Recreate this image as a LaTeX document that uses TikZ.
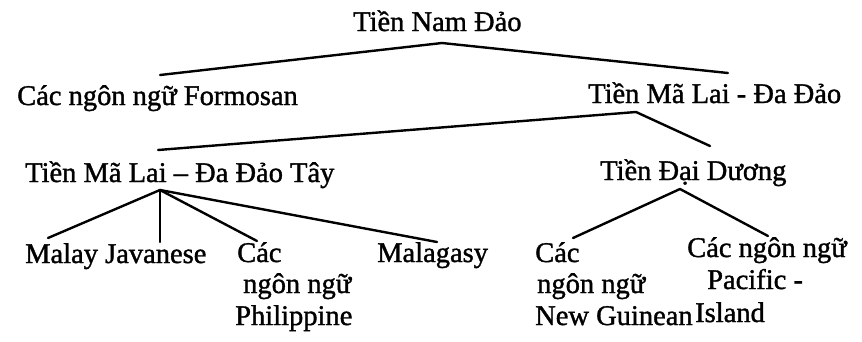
\documentclass[tikz,border=0pt]{standalone}
\usepackage{fontspec}
\setmainfont{Liberation Serif}
\newfontfamily\scanfont{Liberation Serif}[FakeBold=1.2]
\begin{document}
\begin{tikzpicture}[x=1pt,y=-1pt,
  lbl/.style={anchor=base west,inner sep=0pt,font=\scanfont\fontsize{28.5}{30}\selectfont},
  branch/.style={line width=2.4pt,line join=round,line cap=round}]
\useasboundingbox[fill=white] (0,0) rectangle (862,341);
% texts
\node[lbl] (root) at (353,31) {Tiền Nam Đảo};
\node[lbl] (formosan) at (17,105) {Các ngôn ngữ Formosan};
\node[lbl] (mpd) at (588,103) {Tiền Mã Lai - Đa Đảo};
\node[lbl] (west) at (25,182) {Tiền Mã Lai – Đa Đảo Tây};
\node[lbl] (ocean) at (600,180) {Tiền Đại Dương};
\node[lbl] (malay) at (25,263) {Malay Javanese};
\node[lbl] (phA) at (237,262) {Các};
\node[lbl] (phB) at (243,293) {ngôn ngữ};
\node[lbl] (phC) at (235,325) {Philippine};
\node[lbl] (malagasy) at (377,262) {Malagasy};
\node[lbl] (ngA) at (535,262) {Các};
\node[lbl] (ngB) at (537,293) {ngôn ngữ};
\node[lbl] (ngC) at (535,325) {New Guinean};
\node[lbl] (piA) at (687,257) {Các ngôn ngữ};
\node[lbl] (piB) at (707,289) {Pacific -};
\node[lbl] (piC) at (695,322) {Island};
% connector end points
\coordinate (rootTop) at (442,43);
\coordinate (formosanEnd) at (160,75);
\coordinate (mpdEnd) at (728,73);
\coordinate (mpdTop) at (636,112);
\coordinate (westEnd) at (158,150);
\coordinate (oceanEnd) at (710,146);
\coordinate (westTop) at (160,190);
\coordinate (malayEnd) at (48,238);
\coordinate (javEnd) at (160,242);
\coordinate (phEnd) at (257,241);
\coordinate (malagasyEnd) at (437,242);
\coordinate (oceanTop) at (680,189);
\coordinate (ngEnd) at (573,238);
\coordinate (piEnd) at (768,236);
% connectors
\draw[branch] (formosanEnd) -- (rootTop) -- (mpdEnd);
\draw[branch] (westEnd) -- (mpdTop) -- (oceanEnd);
\draw[branch] (westTop) -- (malayEnd);
\draw[branch] (westTop) -- (javEnd);
\draw[branch] (westTop) -- (phEnd);
\draw[branch] (westTop) -- (malagasyEnd);
\draw[branch] (ngEnd) -- (oceanTop) -- (piEnd);
\end{tikzpicture}
\end{document}
